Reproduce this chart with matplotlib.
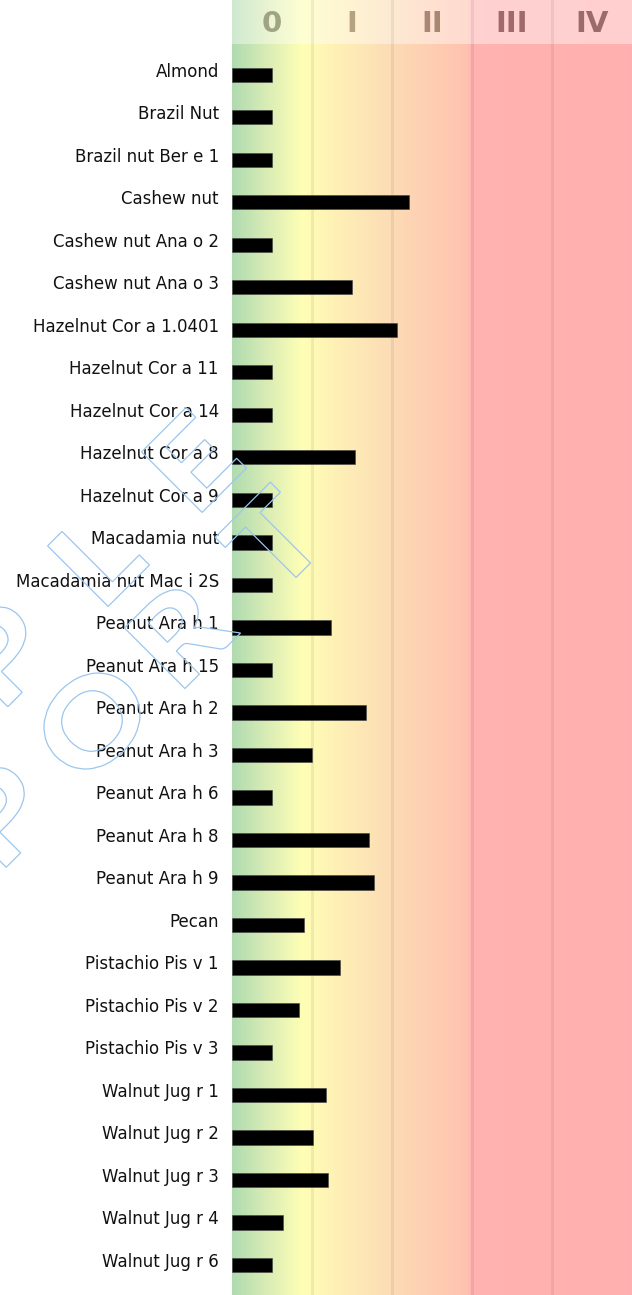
import matplotlib
matplotlib.use("Agg")
import matplotlib.pyplot as plt
import numpy as np
from matplotlib.colors import LinearSegmentedColormap
from matplotlib.transforms import ScaledTranslation, Affine2D, IdentityTransform
from matplotlib.textpath import TextPath
from matplotlib.font_manager import FontProperties
from matplotlib.patches import PathPatch

# Data
allergens = ["Almond", "Brazil Nut", "Brazil nut Ber e 1", "Cashew nut",
             "Cashew nut Ana o 2", "Cashew nut Ana o 3", "Hazelnut Cor a 1.0401",
             "Hazelnut Cor a 11", "Hazelnut Cor a 14", "Hazelnut Cor a 8",
             "Hazelnut Cor a 9", "Macadamia nut", "Macadamia nut Mac i 2S",
             "Peanut Ara h 1", "Peanut Ara h 15", "Peanut Ara h 2", "Peanut Ara h 3",
             "Peanut Ara h 6", "Peanut Ara h 8", "Peanut Ara h 9", "Pecan",
             "Pistachio Pis v 1", "Pistachio Pis v 2", "Pistachio Pis v 3",
             "Walnut Jug r 1", "Walnut Jug r 2", "Walnut Jug r 3", "Walnut Jug r 4",
             "Walnut Jug r 6"]
scores = [0.5, 0.5, 0.5, 2.21, 0.5, 1.5, 2.06, 0.5, 0.5, 1.54, 0.5, 0.5, 0.5,
          1.24, 0.5, 1.68, 1.0, 0.5, 1.71, 1.77, 0.9, 1.35, 0.84, 0.5,
          1.17, 1.01, 1.2, 0.64, 0.5]
classes = ["0", "I", "II", "III", "IV"]
class_colors = ["#a0a482", "#b4a282", "#aa8674", "#a06a6c", "#9c6a6a"]

W, H = 632, 1295
fig = plt.figure(figsize=(W / 100, H / 100), dpi=100)

# background gradient, stops given in class units (0..5)
stops = [(0.0, (0.69, 0.86, 0.69)), (0.45, (0.86, 0.93, 0.71)),
         (0.88, (1.0, 1.0, 0.71)), (1.0, (1.0, 0.98, 0.71)),
         (2.0, (0.99, 0.86, 0.71)), (2.95, (1.0, 0.76, 0.69)),
         (3.0, (1.0, 0.70, 0.69)), (5.0, (1.0, 0.69, 0.69))]
grad = LinearSegmentedColormap.from_list("grad", [(p / 5, c) for p, c in stops])
xs = np.linspace(0, 1, 800)
rgb = grad(xs)[None, :, :3]

top_px = 44
ax = fig.add_axes([232 / W, 0, 400 / W, 1 - top_px / H])
hdr = fig.add_axes([232 / W, 1 - top_px / H, 400 / W, top_px / H])

ax.imshow(rgb, extent=[0, 5, 28.706, -0.729], aspect="auto", zorder=0)
hdr.imshow(0.6 * rgb + 0.4, extent=[0, 5, 0, 1], aspect="auto", zorder=0)

y = np.arange(len(allergens))
ax.barh(y, scores, height=0.33, color="black", edgecolor="#444444",
        linewidth=0.4, zorder=3)

for a in (ax, hdr):
    for v in range(1, 5):
        a.axvline(v, color="black", alpha=0.06, linewidth=2.2, zorder=1)
    a.set_xlim(0, 5)
    for s in a.spines.values():
        s.set_visible(False)

ax.set_ylim(28.706, -0.729)
ax.set_xticks([])
ax.set_yticks(y)
ax.set_yticklabels(allergens, fontsize=12, color="#111111")
ax.tick_params(axis="y", length=0, pad=9.5)
for lab in ax.get_yticklabels():
    lab.set_transform(lab.get_transform() + ScaledTranslation(0, 0.05, fig.dpi_scale_trans))

hdr.set_ylim(0, 1)
hdr.set_xticks([])
hdr.set_yticks([])
for i, (c, col) in enumerate(zip(classes, class_colors)):
    hdr.text(i + 0.5, 0.45, c, ha="center", va="center", fontsize=21,
             fontweight="bold", color=col, zorder=4)

# watermark: outlined heavy letters along a 45 degree line (pixel coords)
wm_font = FontProperties(family=["Lato", "DejaVu Sans"], weight=900)


def watermark(word, end_x, end_y, step, size=118, sx=1.15):
    d = step / np.sqrt(2)
    n = len(word)
    for k, ch in enumerate(word):
        back = n - 1 - k
        px = end_x - back * d
        py = end_y + back * d
        tp = TextPath((0, 0), ch, size=size, prop=wm_font)
        bb = tp.get_extents()
        tr = (Affine2D().translate(-(bb.x0 + bb.x1) / 2, -(bb.y0 + bb.y1) / 2)
              .scale(sx, 1).rotate_deg(45).translate(px, H - py))
        fig.add_artist(PathPatch(tr.transform_path(tp), facecolor="none",
                                 edgecolor="#9cc6ee", linewidth=0.9,
                                 transform=IdentityTransform(), zorder=10))


watermark("SAMPLE", 194, 460, 135)
watermark("REPORT", 273, 540, 128)

fig.savefig("out.png", dpi=100)
